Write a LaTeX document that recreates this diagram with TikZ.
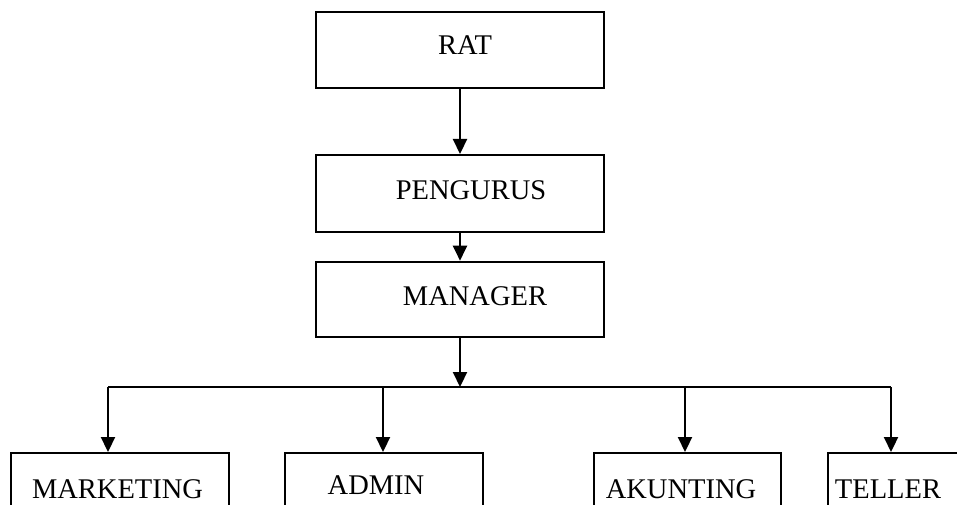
\documentclass[tikz,border=0pt]{standalone}
\usepackage{fontspec}
\setmainfont{Liberation Serif}
\usetikzlibrary{arrows.meta}
\begin{document}
\begin{tikzpicture}[x=1pt,y=-1pt,
  box/.style={draw=black,line width=2pt,rectangle,inner sep=0pt},
  lbl/.style={anchor=base,inner sep=0pt,font=\fontsize{28.5}{30}\selectfont},
  arr/.style={line width=2.2pt,-{Triangle[length=15pt,width=14pt]}},
  conn/.style={line width=2.2pt}]
\useasboundingbox (0,0) rectangle (957,505);
\fill[white] (0,0) rectangle (957,505);
\clip (0,0) rectangle (957,505);
% top boxes
\node[box,minimum width=288,minimum height=76] (rat) at (460,50) {};
\node[lbl] (ratt) at (465,55) {RAT};
\node[box,minimum width=288,minimum height=77] (peng) at (460,193.5) {};
\node[lbl] (pengt) at (471,199) {PENGURUS};
\node[box,line width=2.6pt,minimum width=288,minimum height=75] (mgr) at (460,299.5) {};
\node[lbl] (mgrt) at (475,305) {MANAGER};
% bottom boxes (cut off at bottom edge)
\node[box,minimum width=218,minimum height=100] (mk) at (120,503) {};
\node[lbl] (mkt) at (117.5,498) {MARKETING};
\node[box,minimum width=198,minimum height=100] (ad) at (384,503) {};
\node[lbl] (adt) at (376,494) {ADMIN};
\node[box,minimum width=187,minimum height=100] (ak) at (687.5,503) {};
\node[lbl] (akt) at (681,498) {AKUNTING};
\node[box,minimum width=200,minimum height=100] (te) at (928,503) {};
\node[lbl] (tet) at (888,498) {TELLER};
% bus
\coordinate (bus) at (460,387);
\coordinate (d1) at (108,387);
\coordinate (d2) at (383,387);
\coordinate (d3) at (685,387);
\coordinate (d4) at (891,387);
% connectors
\draw[arr] (rat.south) -- (peng.north);
\draw[arr] (peng.south) -- (mgr.north);
\draw[arr] (mgr.south) -- (bus);
\draw[conn] (d1) -- (d4);
\draw[arr] (d1) -- (d1 |- mk.north);
\draw[arr] (d2) -- (d2 |- ad.north);
\draw[arr] (d3) -- (d3 |- ak.north);
\draw[arr] (d4) -- (d4 |- te.north);
\end{tikzpicture}
\end{document}
